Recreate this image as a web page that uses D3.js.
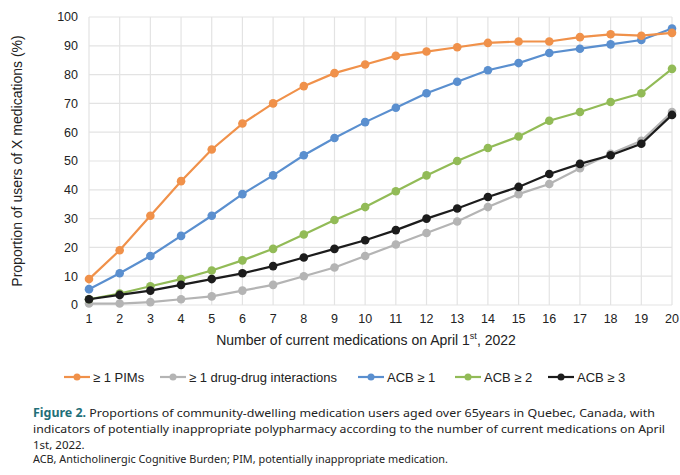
<!DOCTYPE html>
<html><head><meta charset="utf-8">
<script src="https://cdn.jsdelivr.net/npm/d3@7"></script>
<style>body{margin:0;background:#fff}svg{display:block}</style>
</head><body>
<svg width="680" height="475"></svg>
<script>
const categories = ["1","2","3","4","5","6","7","8","9","10","11","12","13","14","15","16","17","18","19","20+"];
const pims = [9,19,31,43,54,63,70,76,80.5,83.5,86.5,88,89.5,91,91.5,91.5,93,94,93.5,94.5];
const ddi = [0.5,0.5,1,2,3,5,7,10,13,17,21,25,29,34,38.5,42,47.5,52.5,57,67];
const acb1 = [5.5,11,17,24,31,38.5,45,52,58,63.5,68.5,73.5,77.5,81.5,84,87.5,89,90.5,92,96];
const acb2 = [2,4,6.5,9,12,15.5,19.5,24.5,29.5,34,39.5,45,50,54.5,58.5,64,67,70.5,73.5,82];
const acb3 = [2,3.5,5,7,9,11,13.5,16.5,19.5,22.5,26,30,33.5,37.5,41,45.5,49,52,56,66];
const yTicks = [0,10,20,30,40,50,60,70,80,90,100];

const series = [
  {name:"≥ 1 PIMs", values:pims, color:"#f0914a"},
  {name:"≥ 1 drug-drug interactions", values:ddi, color:"#b4b4b4"},
  {name:"ACB ≥  1", values:acb1, color:"#5a8fcf"},
  {name:"ACB ≥  2", values:acb2, color:"#92bb57"},
  {name:"ACB ≥ 3", values:acb3, color:"#1c1c1c"}
];
const drawOrder = [series[1], series[3], series[2], series[0], series[4]];

const svg = d3.select("svg");
const x = d3.scalePoint().domain(categories).range([89, 672]);
const y = d3.scaleLinear().domain([0, 100]).range([305, 17]);
const font = "Liberation Sans, Arial, sans-serif";

svg.append("g").selectAll("line").data(yTicks).join("line")
  .attr("x1", 89).attr("x2", 672).attr("y1", d => y(d)).attr("y2", d => y(d))
  .attr("stroke", "#e3e3e3").attr("stroke-width", 1.2);
svg.append("g").selectAll("line").data(categories).join("line")
  .attr("x1", d => x(d)).attr("x2", d => x(d)).attr("y1", y(0)).attr("y2", y(100))
  .attr("stroke", "#e3e3e3").attr("stroke-width", 1.2);

svg.append("g").selectAll("text").data(yTicks).join("text")
  .attr("x", 78).attr("y", d => y(d)).attr("dy", "0.35em")
  .attr("text-anchor", "end").attr("font-family", font).attr("font-size", 12.5).attr("fill", "#222")
  .text(d => d);
svg.append("g").selectAll("text").data(categories).join("text")
  .attr("x", (d, i) => x(d) - (i === 19 ? 0 : 0)).attr("y", 323)
  .attr("text-anchor", (d, i) => i === 19 ? "start" : "middle")
  .attr("dx", (d, i) => i === 19 ? -7 : 0)
  .attr("font-family", font).attr("font-size", 12.5).attr("fill", "#222")
  .text(d => d === "20+" ? "20 +" : d);

svg.append("text").attr("transform", "translate(22,161) rotate(-90)")
  .attr("text-anchor", "middle").attr("font-family", font).attr("font-size", 14).attr("fill", "#222")
  .text("Proportion of users of X medications (%)");
const xt = svg.append("text").attr("x", 366).attr("y", 345).attr("text-anchor", "middle")
  .attr("font-family", font).attr("font-size", 14).attr("fill", "#222");
xt.append("tspan").text("Number of current medications on April 1");
xt.append("tspan").attr("font-size", 9).attr("dy", -6).text("st");
xt.append("tspan").attr("dy", 6).text(", 2022");

const line = d3.line().x((d, i) => x(categories[i])).y(d => y(d));
drawOrder.forEach(s => {
  const g = svg.append("g");
  g.append("path").attr("d", line(s.values)).attr("fill", "none")
    .attr("stroke", s.color).attr("stroke-width", 2.2);
  g.selectAll("circle").data(s.values).join("circle")
    .attr("cx", (d, i) => x(categories[i])).attr("cy", d => y(d)).attr("r", 4.3)
    .attr("fill", s.color);
});

// legend
const legendX = [64, 160, 358, 455, 548];
series.forEach((s, i) => {
  const g = svg.append("g").attr("transform", `translate(${legendX[i]},377)`);
  g.append("line").attr("x1", 0).attr("x2", 26).attr("stroke", s.color).attr("stroke-width", 2.2);
  g.append("circle").attr("cx", 13).attr("r", 3.5).attr("fill", s.color);
  g.append("text").attr("x", 29).attr("dy", "0.35em").attr("font-family", font)
    .attr("font-size", 13).attr("fill", "#222").text(s.name);
});

// caption
const cf = "Noto Sans, sans-serif";
const c1 = svg.append("text").attr("x", 33).attr("y", 417).attr("font-family", cf).attr("font-size", 11.5).attr("fill", "#222")
  .attr("textLength", 622).attr("lengthAdjust", "spacingAndGlyphs");
c1.append("tspan").attr("font-weight", "bold").attr("fill", "#1f6f78").text("Figure 2.");
c1.append("tspan").text("  Proportions of community-dwelling medication users aged over 65years in Quebec, Canada, with");
svg.append("text").attr("x", 33).attr("y", 433).attr("font-family", cf).attr("font-size", 11.5).attr("fill", "#222")
  .attr("textLength", 632).attr("lengthAdjust", "spacingAndGlyphs")
  .text("indicators of potentially inappropriate polypharmacy according to the number of current medications on April");
svg.append("text").attr("x", 33).attr("y", 449).attr("font-family", cf).attr("font-size", 11.5).attr("fill", "#222")
  .text("1st, 2022.");
svg.append("text").attr("x", 33).attr("y", 463).attr("font-family", cf).attr("font-size", 10).attr("fill", "#222")
  .attr("textLength", 415).attr("lengthAdjust", "spacingAndGlyphs")
  .text("ACB, Anticholinergic Cognitive Burden; PIM, potentially inappropriate medication.");
</script>
</body></html>
